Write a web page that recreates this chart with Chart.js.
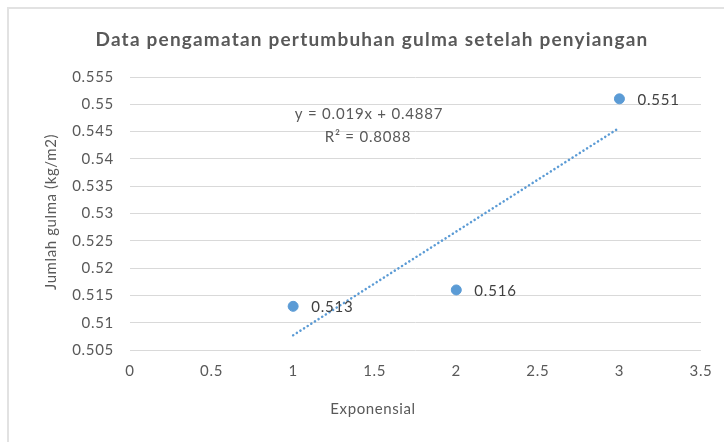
<!DOCTYPE html>
<html>
<head>
<meta charset="utf-8">
<script src="https://cdn.jsdelivr.net/npm/chart.js@4"></script>
<style>
  html, body { margin: 0; padding: 0; background: #fff; }
  #wrap { width: 724px; height: 444px; }
</style>
</head>
<body>
<div id="wrap"><canvas id="chart" width="724" height="444"></canvas></div>
<script>
const chartTitle = 'Data pengamatan pertumbuhan gulma setelah penyiangan';
const xTitle = 'Exponensial';
const yTitle = 'Jumlah gulma (kg/m2)';

// observed points
const xValues = [1, 2, 3];
const yValues = [0.513, 0.516, 0.551];
const pointLabels = ['0.513', '0.516', '0.551'];

// linear trendline, ends (y = 0.019x + 0.4887)
const trendX = [1, 3];
const trendY = [0.5077, 0.5457];
const trendText = ['y = 0.019x + 0.4887', 'R\u00b2 = 0.8088'];

const blue = '#5b9bd5';
const textGray = '#595959';
const fontFamily = 'Lato, "Open Sans", sans-serif';

const textPlugin = {
    id: 'excelText',
    beforeDraw(chart) {
        const ctx = chart.ctx;
        // chart frame
        ctx.save();
        ctx.strokeStyle = '#e2e2e2';
        ctx.lineWidth = 2;
        ctx.beginPath();
        ctx.moveTo(8, 442);
        ctx.lineTo(8, 8);
        ctx.lineTo(724, 8);
        ctx.stroke();
        ctx.restore();
        ctx.letterSpacing = '0.7px';
    },
    afterDraw(chart) {
        const ctx = chart.ctx;
        const xs = chart.scales.x;
        const ys = chart.scales.y;
        ctx.save();
        ctx.textBaseline = 'middle';

        // title
        ctx.letterSpacing = '1.2px';
        ctx.fillStyle = textGray;
        ctx.font = 'bold 19px ' + fontFamily;
        ctx.textAlign = 'center';
        ctx.fillText(chartTitle, 372, 40);

        // axis titles
        ctx.letterSpacing = '0.6px';
        ctx.font = '15px ' + fontFamily;
        ctx.fillText(xTitle, 373, 409);
        ctx.save();
        ctx.translate(51, 212);
        ctx.rotate(-Math.PI / 2);
        ctx.fillText(yTitle, 0, 0);
        ctx.restore();

        // trendline equation
        ctx.letterSpacing = '0.8px';
        ctx.font = '15px ' + fontFamily;
        ctx.fillText(trendText[0], 369, 114);
        ctx.fillText(trendText[1], 368, 137);

        // data labels
        ctx.fillStyle = '#404040';
        ctx.textAlign = 'left';
        xValues.forEach((x, i) => {
            ctx.fillText(pointLabels[i], xs.getPixelForValue(x) + 18, ys.getPixelForValue(yValues[i]) + 1);
        });
        ctx.restore();
    }
};

const tickFont = { family: fontFamily, size: 15 };

new Chart(document.getElementById('chart'), {
    type: 'scatter',
    data: {
        datasets: [
            {
                type: 'line',
                data: trendX.map((x, i) => ({ x: x, y: trendY[i] })),
                borderColor: blue,
                borderWidth: 2.5,
                borderDash: [0.1, 4.2],
                borderCapStyle: 'round',
                pointRadius: 0,
                fill: false,
                order: 2
            },
            {
                data: xValues.map((x, i) => ({ x: x, y: yValues[i] })),
                backgroundColor: blue,
                borderColor: blue,
                pointRadius: 5,
                order: 1
            }
        ]
    },
    options: {
        responsive: false,
        animation: false,
        layout: { padding: { left: 5, right: 23, top: 77, bottom: 0 } },
        plugins: {
            legend: { display: false },
            tooltip: { enabled: false }
        },
        scales: {
            x: {
                type: 'linear',
                min: 0,
                max: 3.5,
                ticks: {
                    stepSize: 0.5,
                    padding: 12,
                    color: textGray,
                    font: tickFont,
                    callback: v => String(Math.round(v * 10) / 10)
                },
                grid: { display: false, drawTicks: false },
                border: { display: false },
                afterFit(scale) { scale.height = 94; }
            },
            y: {
                min: 0.505,
                max: 0.555,
                ticks: {
                    stepSize: 0.005,
                    padding: 16,
                    color: textGray,
                    font: tickFont,
                    callback: v => String(Math.round(v * 1000) / 1000)
                },
                grid: { color: '#d9d9d9', lineWidth: 1, drawTicks: false },
                border: { display: false },
                afterFit(scale) { scale.width = 125; }
            }
        }
    },
    plugins: [textPlugin]
});
</script>
</body>
</html>
